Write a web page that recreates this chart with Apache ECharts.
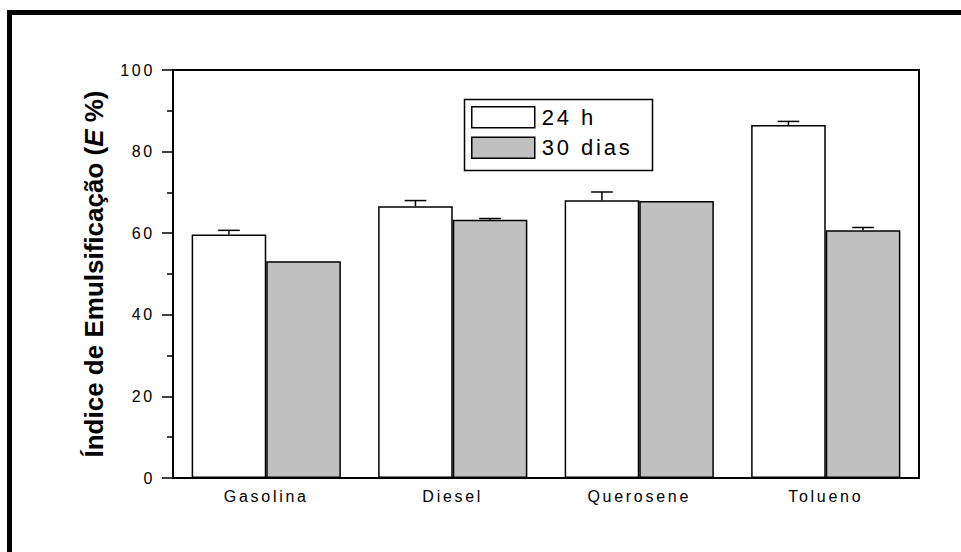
<!DOCTYPE html>
<html>
<head>
<meta charset="utf-8">
<script src="https://cdn.jsdelivr.net/npm/echarts@6/dist/echarts.min.js"></script>
<style>
  html, body { margin: 0; padding: 0; background: #fff; }
  #chart { width: 961px; height: 552px; }
  /* spaced lettering for tick labels and legend */
  #chart svg text { letter-spacing: 0.17em; }
  #chart svg text.legend-text { letter-spacing: 0.13em; }
  #chart svg text[style*="bold"], #chart svg text.axis-name { letter-spacing: 0; }
</style>
</head>
<body>
<div id="chart"></div>
<script>
// Emulsification index per hydrocarbon, after 24 h and after 30 days
const categories = ['Gasolina', 'Diesel', 'Querosene', 'Tolueno'];
const seriesNames = ['24 h', '30 dias'];
const values24h = [59.7, 66.6, 68.1, 86.5];
const values30d = [53.1, 63.3, 67.9, 60.7];
// upper error (standard deviation) for each bar
const errors24h = [1.0, 1.4, 2.0, 0.9];
const errors30d = [0.0, 0.3, 0.0, 0.7];
// value axis: 0..100, labelled every 20
const yMin = 0, yMax = 100, yStep = 20;

const FONT = "'Liberation Sans', Arial, sans-serif";

function errorBars(name, values, errors, side) {
  return {
    type: 'custom',
    name: name + ' erro',
    silent: true,
    z: 5,
    xAxisIndex: 0,
    encode: { x: 0, y: 1 },
    data: values.map((v, i) => [i, v, errors[i]]),
    renderItem(params, api) {
      const i = api.value(0), v = api.value(1), e = api.value(2);
      if (!(e > 0)) return null;
      const band = api.size([1, 0])[0];
      const base = api.coord([i, v]);
      const top = api.coord([i, v + e]);
      const x = base[0] + side * band * 0.2;
      const half = band * 0.058;
      const st = { stroke: '#000', lineWidth: 1.5 };
      return {
        type: 'group',
        children: [
          { type: 'line', shape: { x1: x, y1: base[1], x2: x, y2: top[1] }, style: st },
          { type: 'line', shape: { x1: x - half, y1: top[1], x2: x + half, y2: top[1] }, style: st }
        ]
      };
    }
  };
}

const chart = echarts.init(document.getElementById('chart'), null, { renderer: 'svg' });

const option = {
  animation: false,
  backgroundColor: '#fff',
  textStyle: { fontFamily: FONT, color: '#000' },
  grid: {
    left: 173, top: 70, right: 42, bottom: 74,
    show: true, borderColor: '#000', borderWidth: 2, backgroundColor: 'transparent'
  },
  legend: {
    data: seriesNames,
    orient: 'vertical',
    left: 471, top: 106,
    padding: 0,
    itemWidth: 63, itemHeight: 21, itemGap: 8,
    icon: 'rect',
    itemStyle: { borderColor: '#000', borderWidth: 1.5 },
    textStyle: { fontSize: 22, color: '#000', fontFamily: FONT, padding: [0, 0, 0, 2] }
  },
  xAxis: [
    {
      type: 'category',
      data: categories,
      position: 'bottom',
      axisLine: { lineStyle: { color: '#000', width: 2 } },
      axisTick: { length: 5, lineStyle: { color: '#000', width: 1.5 } },
      axisLabel: { fontSize: 16, color: '#000', margin: 10, fontFamily: FONT },
      splitLine: { show: false }
    },
    {
      // upward half of the crossing category ticks
      type: 'category',
      data: categories,
      position: 'top',
      offset: -408,
      axisLine: { show: false },
      axisTick: { length: 5, lineStyle: { color: '#000', width: 1.5 } },
      axisLabel: { show: false },
      splitLine: { show: false }
    }
  ],
  yAxis: {
    type: 'value',
    min: yMin, max: yMax, interval: yStep,
    name: '{a|Índice de Emulsificação (}{b|E}{a| %)}',
    nameLocation: 'middle',
    nameGap: 66,
    nameTextStyle: {
      rich: {
        a: { fontSize: 26, fontWeight: 'bold', fontFamily: FONT, color: '#000' },
        b: { fontSize: 26, fontWeight: 'bold', fontStyle: 'italic', fontFamily: FONT, color: '#000' }
      }
    },
    axisLine: { show: true, lineStyle: { color: '#000', width: 2 } },
    axisTick: { show: true, length: 11, lineStyle: { color: '#000', width: 1.5 } },
    minorTick: { show: true, splitNumber: 2, length: 6, lineStyle: { color: '#000', width: 1.5 } },
    axisLabel: { fontSize: 16, color: '#000', margin: 18, fontFamily: FONT },
    splitLine: { show: false }
  },
  series: [
    {
      name: seriesNames[0], type: 'bar', data: values24h,
      barGap: '0%', barCategoryGap: '20%',
      itemStyle: { color: '#ffffff', borderColor: '#000', borderWidth: 1.5 }
    },
    {
      name: seriesNames[1], type: 'bar', data: values30d,
      barGap: '0%', barCategoryGap: '20%',
      itemStyle: { color: '#c0c0c0', borderColor: '#000', borderWidth: 1.5 }
    },
    errorBars(seriesNames[0], values24h, errors24h, -1),
    errorBars(seriesNames[1], values30d, errors30d, 1)
  ],
  graphic: [
    // legend frame
    { type: 'rect', left: 462, top: 97, shape: { width: 188, height: 71 },
      style: { fill: 'none', stroke: '#000', lineWidth: 1.5 }, z: 10, silent: true },
    // page frame, top and left edges
    { type: 'rect', shape: { x: 7, y: 10, width: 954, height: 5 }, style: { fill: '#000' }, silent: true },
    { type: 'rect', shape: { x: 7, y: 10, width: 5, height: 542 }, style: { fill: '#000' }, silent: true }
  ]
};

chart.setOption(option);

function tagTexts() {
  const pieces = ['Índice de Emulsificação (', 'E', ' %)'];
  document.querySelectorAll('#chart svg text').forEach(t => {
    const s = t.textContent;
    if (pieces.includes(s) || s.indexOf('Índice') >= 0) t.classList.add('axis-name');
    else if (seriesNames.includes(s)) t.classList.add('legend-text');
  });
}
tagTexts();
chart.on('finished', tagTexts);
</script>
</body>
</html>
